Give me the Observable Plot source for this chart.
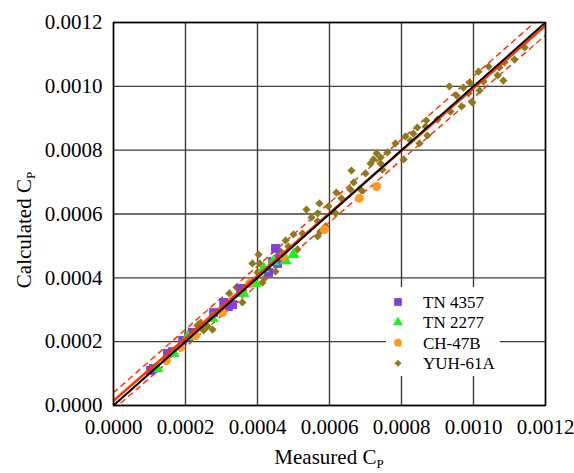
<!DOCTYPE html>
<html><head><meta charset="utf-8">
<script src="https://cdn.jsdelivr.net/npm/d3@7"></script>
<script src="https://cdn.jsdelivr.net/npm/@observablehq/plot@0.6"></script>
<style>body{margin:0;background:#fff;}</style>
</head><body><div id="chart"></div>
<script>
const seriesNames = ["TN 4357", "TN 2277", "CH-47B", "YUH-61A"];
const tickValues = [0, 0.0002, 0.0004, 0.0006, 0.0008, 0.0010, 0.0012];

const tn4357Measured = [0.000103,0.000111,0.000150,0.000164,0.000192,0.000208,0.000219,0.000278,0.000306,0.000319,0.000331,0.000353,0.000431,0.000442,0.000450,0.000456,0.000464];
const tn4357Calculated = [0.000110,0.000116,0.000163,0.000169,0.000204,0.000216,0.000229,0.000291,0.000323,0.000310,0.000316,0.000367,0.000417,0.000451,0.000492,0.000445,0.000461];

const tn2277Measured = [0.000122,0.000167,0.000206,0.000275,0.000361,0.000394,0.000417,0.000444,0.000478,0.000500];
const tn2277Calculated = [0.000116,0.000163,0.000216,0.000273,0.000351,0.000382,0.000429,0.000451,0.000454,0.000473];

const ch47bMeasured = [0.000147,0.000186,0.000228,0.000303,0.000378,0.000472,0.000586,0.000683,0.000731];
const ch47bCalculated = [0.000141,0.000182,0.000219,0.000291,0.000382,0.000467,0.000551,0.000649,0.000686];

const yuh61aMeasured = [0.000233,0.000242,0.000250,0.000275,0.000261,0.000322,0.000342,0.000361,0.000358,0.000386,
0.000403,0.000406,0.000400,0.000414,0.000419,0.000450,0.000431,0.000456,0.000478,0.000486,
0.000464,0.000511,0.000500,0.000525,0.000536,0.000550,0.000567,0.000572,0.000597,0.000617,
0.000589,0.000567,0.000575,0.000567,0.000619,0.000633,0.000658,0.000667,0.000661,0.000689,
0.000700,0.000714,0.000722,0.000731,0.000742,0.000742,0.000747,0.000761,0.000783,0.000806,
0.000811,0.000825,0.000833,0.000844,0.000850,0.000867,0.000872,0.000869,0.000900,0.000936,
0.000953,0.000933,0.000967,0.000972,0.000992,0.000997,0.001017,0.001014,0.001028,0.001042,
0.001067,0.000986,0.001072,0.001083,0.001086,0.001114,0.001142];
const yuh61aCalculated = [0.000251,0.000260,0.000235,0.000238,0.000248,0.000351,0.000370,0.000360,0.000323,0.000445,
0.000473,0.000445,0.000417,0.000385,0.000398,0.000420,0.000410,0.000470,0.000517,0.000498,
0.000483,0.000489,0.000536,0.000539,0.000614,0.000589,0.000602,0.000633,0.000624,0.000602,
0.000561,0.000530,0.000545,0.000577,0.000667,0.000649,0.000677,0.000699,0.000736,0.000674,
0.000727,0.000758,0.000771,0.000790,0.000777,0.000758,0.000739,0.000793,0.000821,0.000771,
0.000843,0.000830,0.000852,0.000871,0.000821,0.000874,0.000846,0.000893,0.000896,0.000921,
0.000971,0.001000,0.000937,0.000996,0.001009,0.000949,0.000987,0.001046,0.001015,0.001062,
0.001034,0.000978,0.001059,0.001018,0.001075,0.001084,0.001122];

// reference lines (endpoints)
const lineX = [0, 0.0012];
const perfectY = [0, 0.0012];
const fitY = [0.000015, 0.00119];
const upperY = [0.00004, 0.00123];
const lowerY = [-0.000012, 0.00116];

const colors = ["#8040e0", "#22ee22", "#ff9a22", "#8c7a1e"];
const symbols = ["square", "triangle", "circle", "diamond2"];
const radii = [5, 4.6, 4.5, 3.7];

const pts = (mx, cy) => mx.map((m, i) => ({x: m, y: cy[i]}));
const seriesData = [
  pts(tn4357Measured, tn4357Calculated),
  pts(tn2277Measured, tn2277Calculated),
  pts(ch47bMeasured, ch47bCalculated),
  pts(yuh61aMeasured, yuh61aCalculated)
];
const linePts = ys => lineX.map((x, i) => ({x, y: ys[i]}));
const dotMark = k => Plot.dot(seriesData[k], {x: "x", y: "y", symbol: symbols[k], r: radii[k], fill: colors[k], stroke: "none"});

const font = "'Liberation Serif', 'Times New Roman', serif";
const plot = Plot.plot({
  width: 574, height: 473,
  marginLeft: 113, marginRight: 29, marginTop: 22, marginBottom: 68,
  style: {fontFamily: font, fontSize: "21px", color: "#000", background: "#fff", overflow: "visible"},
  x: {domain: [0, 0.0012], label: null},
  y: {domain: [0, 0.0012], label: null},
  marks: [
    Plot.gridX(tickValues, {stroke: "#3c3c3c", strokeOpacity: 1, strokeWidth: 1.4}),
    Plot.gridY(tickValues, {stroke: "#3c3c3c", strokeOpacity: 1, strokeWidth: 1.4}),
    Plot.axisX(tickValues, {tickSize: 0, tickPadding: 14, tickFormat: d3.format(".4f"), fontSize: 21}),
    Plot.axisY(tickValues, {tickSize: 0, tickPadding: 11, tickFormat: d3.format(".4f"), fontSize: 21}),
    Plot.line(linePts(upperY), {x: "x", y: "y", stroke: "#ff3300", strokeWidth: 1.5, strokeDasharray: "5,5", clip: true}),
    Plot.line(linePts(lowerY), {x: "x", y: "y", stroke: "#ff3300", strokeWidth: 1.5, strokeDasharray: "5,5", clip: true}),
    dotMark(3), dotMark(0), dotMark(1), dotMark(2),
    Plot.line(linePts(fitY), {x: "x", y: "y", stroke: "#ff3300", strokeWidth: 2.6, clip: true}),
    Plot.line(linePts(perfectY), {x: "x", y: "y", stroke: "#000", strokeWidth: 2, clip: true}),
    Plot.frame({stroke: "#000", strokeWidth: 1.5})
  ]
});
document.getElementById("chart").appendChild(plot);

const svg = d3.select(plot);
// axis titles
const xt = svg.append("text").attr("x", 329).attr("y", 464).attr("text-anchor", "middle")
  .attr("font-family", font).attr("font-size", 21).attr("fill", "#000");
xt.append("tspan").text("Measured C");
xt.append("tspan").attr("dy", 4).attr("font-size", 13).text("P");
const yt = svg.append("text").attr("transform", "translate(31,230) rotate(-90)").attr("text-anchor", "middle")
  .attr("font-family", font).attr("font-size", 21).attr("fill", "#000");
yt.append("tspan").text("Calculated C");
yt.append("tspan").attr("dy", 4).attr("font-size", 13).text("P");

// legend
const lg = svg.append("g");
lg.append("rect").attr("x", 386).attr("y", 287).attr("width", 114).attr("height", 89).attr("fill", "#fff");
const legendSym = [d3.symbolSquare, d3.symbolTriangle, d3.symbolCircle, d3.symbolDiamond2];
const legendSize = [60, 45, 50, 32];
seriesNames.forEach((name, i) => {
  const cy = 302 + i * 20.4;
  lg.append("path").attr("d", d3.symbol(legendSym[i], legendSize[i])())
    .attr("transform", `translate(398,${cy})`).attr("fill", colors[i]);
  lg.append("text").attr("x", 423).attr("y", cy).attr("dy", "0.35em").attr("text-anchor", "start")
    .attr("font-family", font).attr("font-size", 17).attr("fill", "#000").text(name);
});
</script>
</body></html>
